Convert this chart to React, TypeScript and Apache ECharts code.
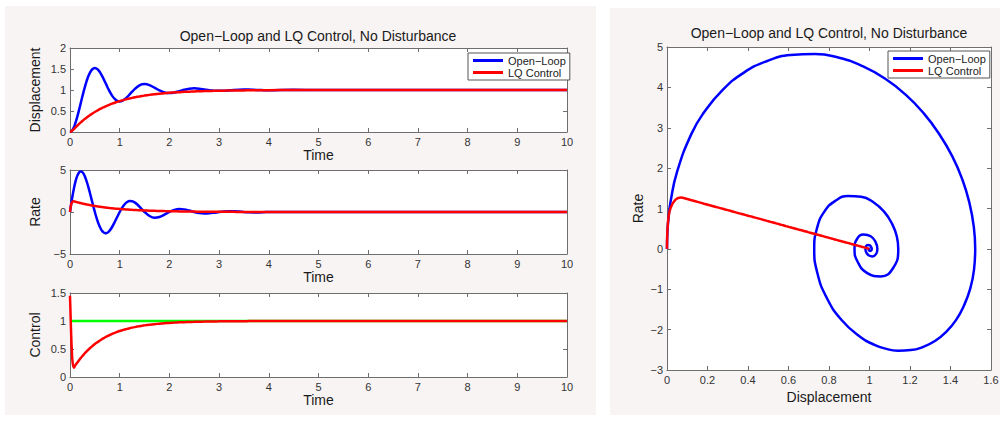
import React, { useEffect, useRef } from 'react';
import * as echarts from 'echarts';

// Time samples (s)
const T = [0, 0.01, 0.02, 0.03, 0.05, 0.08,
  0.1, 0.125, 0.15, 0.175, 0.2, 0.225, 0.25, 0.275, 0.3, 0.325, 0.35, 0.375, 0.4, 0.425, 0.45, 0.475, 0.5,
  0.525, 0.55, 0.575, 0.6, 0.625, 0.65, 0.675, 0.7, 0.725, 0.75, 0.775, 0.8,
  0.85, 0.9, 0.95, 1.0, 1.05, 1.1, 1.15, 1.2, 1.25, 1.3, 1.35, 1.4, 1.45, 1.5,
  1.6, 1.7, 1.8, 1.9, 2.0, 2.1, 2.2, 2.3, 2.4, 2.5, 2.6, 2.7, 2.8, 2.9, 3.0, 3.1, 3.2, 3.3, 3.4, 3.5,
  3.6, 3.7, 3.8, 3.9, 4.0,
  4.5, 5, 5.5, 6, 6.5, 7, 7.5, 8, 8.5, 9, 9.5, 10];

const openDisp = [0, 0.002, 0.008, 0.018, 0.049, 0.120,
  0.183, 0.275, 0.378, 0.492, 0.610, 0.731, 0.850, 0.966, 1.076, 1.177, 1.267, 1.344, 1.409, 1.459, 1.494, 1.515, 1.522,
  1.516, 1.497, 1.466, 1.427, 1.379, 1.325, 1.265, 1.204, 1.141, 1.078, 1.018, 0.960,
  0.861, 0.787, 0.742, 0.727, 0.741, 0.777, 0.831, 0.894, 0.959, 1.021, 1.073, 1.111, 1.135, 1.142,
  1.116, 1.055, 0.989, 0.942, 0.926, 0.939, 0.971, 1.006, 1.030, 1.039, 1.032, 1.015, 0.997, 0.984, 0.980, 0.983, 0.992, 1.002, 1.008, 1.011,
  1.009, 1.004, 0.999, 0.996, 0.995,
  1.003, 0.998, 1.001, 1, 1, 1, 1, 1, 1, 1, 1, 1];

const openRate = [0, 0.406, 0.800, 1.181, 1.897, 2.842,
  3.382, 3.937, 4.360, 4.648, 4.803, 4.829, 4.732, 4.525, 4.218, 3.825, 3.362, 2.845, 2.290, 1.711, 1.128, 0.552, 0,
  -0.518, -0.990, -1.408, -1.765, -2.055, -2.276, -2.427, -2.507, -2.521, -2.471, -2.362, -2.202,
  -1.755, -1.195, -0.589, 0, 0.517, 0.922, 1.189, 1.309, 1.290, 1.149, 0.916, 0.624, 0.307, 0,
  -0.481, -0.683, -0.600, -0.326, 0, 0.251, 0.357, 0.313, 0.170, 0, -0.131, -0.186, -0.164, -0.089, 0, 0.069, 0.097, 0.085, 0.047, 0,
  -0.036, -0.051, -0.045, -0.024, 0,
  0, 0, 0, 0, 0, 0, 0, 0, 0, 0, 0, 0];

const lqDisp = [0, 0.002, 0.008, 0.018, 0.042, 0.070,
  0.095, 0.126, 0.155, 0.183, 0.211, 0.237, 0.263, 0.288, 0.312, 0.335, 0.357, 0.379, 0.400, 0.420, 0.440, 0.459, 0.477,
  0.494, 0.511, 0.528, 0.544, 0.559, 0.574, 0.588, 0.602, 0.616, 0.628, 0.641, 0.653,
  0.676, 0.697, 0.717, 0.736, 0.754, 0.770, 0.785, 0.799, 0.813, 0.825, 0.837, 0.847, 0.858, 0.867,
  0.884, 0.899, 0.912, 0.923, 0.933, 0.942, 0.949, 0.956, 0.961, 0.966, 0.971, 0.974, 0.978, 0.980, 0.983, 0.985, 0.987, 0.989, 0.990, 0.991,
  0.992, 0.993, 0.994, 0.995, 0.996,
  0.998, 0.999, 1, 1, 1, 1, 1, 1, 1, 1, 1, 1];

const lqRate = [0, 0.45, 0.80, 1.02, 1.22, 1.27,
  1.240, 1.198, 1.158, 1.119, 1.081, 1.045, 1.009, 0.975, 0.943, 0.911, 0.880, 0.851, 0.822, 0.794, 0.768, 0.742, 0.717,
  0.693, 0.669, 0.647, 0.625, 0.604, 0.584, 0.564, 0.545, 0.527, 0.509, 0.492, 0.475,
  0.444, 0.414, 0.387, 0.361, 0.337, 0.315, 0.294, 0.275, 0.257, 0.240, 0.224, 0.209, 0.195, 0.182,
  0.159, 0.139, 0.121, 0.105, 0.092, 0.080, 0.070, 0.061, 0.053, 0.046, 0.040, 0.035, 0.031, 0.027, 0.023, 0.020, 0.018, 0.015, 0.014, 0.012,
  0.010, 0.009, 0.008, 0.007, 0.006,
  0.003, 0.001, 0, 0, 0, 0, 0, 0, 0, 0, 0, 0];

const lqCtrl = [1.45, 1.15, 0.85, 0.60, 0.28, 0.165,
  0.197, 0.230, 0.261, 0.292, 0.320, 0.348, 0.375, 0.400, 0.425, 0.448, 0.471, 0.492, 0.513, 0.533, 0.552, 0.570, 0.588,
  0.605, 0.621, 0.636, 0.651, 0.665, 0.679, 0.692, 0.705, 0.717, 0.728, 0.739, 0.750,
  0.770, 0.788, 0.805, 0.821, 0.835, 0.848, 0.860, 0.872, 0.882, 0.891, 0.900, 0.908, 0.915, 0.922,
  0.934, 0.944, 0.953, 0.960, 0.966, 0.971, 0.976, 0.979, 0.983, 0.985, 0.988, 0.989, 0.991, 0.992, 0.994, 0.995, 0.995, 0.996, 0.997, 0.997,
  0.998, 0.998, 0.998, 0.999, 0.999,
  1, 1, 1, 1, 1, 1, 1, 1, 1, 1, 1, 1];

const openCtrlT = [0, 10];
const openCtrl = [1, 1];

const TITLE = 'Open\u2212Loop and LQ Control, No Disturbance';
const OPEN = 'Open\u2212Loop';
const LQ = 'LQ Control';

const pairs = (xs: number[], ys: number[]) => xs.map((x, i) => [x, ys[i]]);

export default function App() {
  const ref = useRef<HTMLDivElement>(null);
  useEffect(() => {
    const chart = echarts.init(ref.current!, null, { renderer: 'svg' });
    const font = '"Liberation Sans", Arial, Helvetica, sans-serif';
    const axisColor = '#6e6e6e';
    const labelColor = '#333';
    const fmt = (v: number) => String(parseFloat(v.toFixed(2))).replace('-', '\u2212');

    const grids = [
      { left: 70, top: 48, width: 497, height: 84 },
      { left: 70, top: 170, width: 497, height: 84 },
      { left: 70, top: 293, width: 497, height: 84 },
      { left: 667, top: 47, width: 324, height: 323 },
    ].map((g) => ({ ...g, show: true, backgroundColor: '#ffffff', borderWidth: 0 }));

    const xr = [
      { min: 0, max: 10, interval: 1, name: 'Time', gap: 13 },
      { min: 0, max: 10, interval: 1, name: 'Time', gap: 13 },
      { min: 0, max: 10, interval: 1, name: 'Time', gap: 13 },
      { min: 0, max: 1.6, interval: 0.2, name: 'Displacement', gap: 19 },
    ];
    const yr = [
      { min: 0, max: 2, interval: 0.5, name: 'Displacement', gap: 28 },
      { min: -5, max: 5, interval: 5, name: 'Rate', gap: 28 },
      { min: 0, max: 1.5, interval: 0.5, name: 'Control', gap: 28 },
      { min: -3, max: 5, interval: 1, name: 'Rate', gap: 22 },
    ];

    const common = (main: boolean) => ({
      type: 'value',
      axisLine: { show: true, onZero: false, lineStyle: { color: axisColor, width: 1 } },
      axisTick: { show: true, inside: true, length: 4, lineStyle: { color: axisColor } },
      axisLabel: { show: main, fontSize: 11, color: labelColor, margin: 4, fontFamily: font, formatter: fmt },
      splitLine: { show: false },
      nameTextStyle: { fontSize: 14, color: '#1a1a1a', fontFamily: font },
      nameLocation: 'middle',
    });

    const xAxis: any[] = [];
    const yAxis: any[] = [];
    xr.forEach((a, i) => {
      xAxis.push({ ...common(true), gridIndex: i, position: 'bottom', min: a.min, max: a.max, interval: a.interval, name: a.name, nameGap: a.gap });
    });
    xr.forEach((a, i) => {
      xAxis.push({ ...common(false), gridIndex: i, position: 'top', min: a.min, max: a.max, interval: a.interval });
    });
    yr.forEach((a, i) => {
      yAxis.push({ ...common(true), gridIndex: i, position: 'left', min: a.min, max: a.max, interval: a.interval, name: a.name, nameGap: a.gap, nameRotate: 90 });
    });
    yr.forEach((a, i) => {
      yAxis.push({ ...common(false), gridIndex: i, position: 'right', min: a.min, max: a.max, interval: a.interval });
    });

    const line = (name: string, data: number[][], idx: number, color: string, smooth: number = 0.3) => ({
      type: 'line', name, data, xAxisIndex: idx, yAxisIndex: idx,
      showSymbol: false, symbol: 'none', smooth,
      lineStyle: { color, width: 2.5 }, itemStyle: { color },
      clip: true,
    });

    const legendCommon = {
      orient: 'vertical',
      data: [{ name: OPEN, icon: 'rect' }, { name: LQ, icon: 'rect' }],
      itemWidth: 30, itemHeight: 3, itemGap: 1,
      textStyle: { fontSize: 11, color: '#222', fontFamily: font },
      borderColor: '#555', borderWidth: 1, backgroundColor: '#ffffff',
      padding: [2, 4, 2, 5], selectedMode: false,
    };

    chart.setOption({
      animation: false,
      backgroundColor: 'transparent',
      grid: grids,
      xAxis, yAxis,
      legend: [
        { ...legendCommon, left: 468, top: 53 },
        { ...legendCommon, left: 888, top: 51 },
      ],
      graphic: [
        { type: 'text', x: 318, y: 36, style: { text: TITLE, fontSize: 14, fontFamily: font, fill: '#1a1a1a', align: 'center', verticalAlign: 'middle', textAlign: 'center', textVerticalAlign: 'middle' } },
        { type: 'text', x: 829, y: 33, style: { text: TITLE, fontSize: 14, fontFamily: font, fill: '#1a1a1a', align: 'center', verticalAlign: 'middle', textAlign: 'center', textVerticalAlign: 'middle' } },
      ],
      series: [
        line(OPEN, pairs(T, openDisp), 0, '#0000ff'),
        line(LQ, pairs(T, lqDisp), 0, '#ff0000'),
        line(OPEN, pairs(T, openRate), 1, '#0000ff'),
        line(LQ, pairs(T, lqRate), 1, '#ff0000'),
        line('Open-Loop control input', pairs(openCtrlT, openCtrl), 2, '#00ff00', 0),
        line(LQ, pairs(T, lqCtrl), 2, '#ff0000', 0.2),
        line(OPEN, pairs(openDisp, openRate), 3, '#0000ff', 0.5),
        line(LQ, pairs(lqDisp, lqRate), 3, '#ff0000', 0.4),
      ],
    });
    return () => chart.dispose();
  }, []);

  return (
    <div style={{ position: 'absolute', left: 0, top: 0, width: 1004, height: 421, background: '#ffffff' }}>
      <div style={{ position: 'absolute', left: 5, top: 6, width: 591, height: 409, background: '#f8f4f4' }} />
      <div style={{ position: 'absolute', left: 610, top: 8, width: 390, height: 407, background: '#f8f4f4' }} />
      <div ref={ref} style={{ position: 'absolute', left: 0, top: 0, width: 1004, height: 421 }} />
    </div>
  );
}
